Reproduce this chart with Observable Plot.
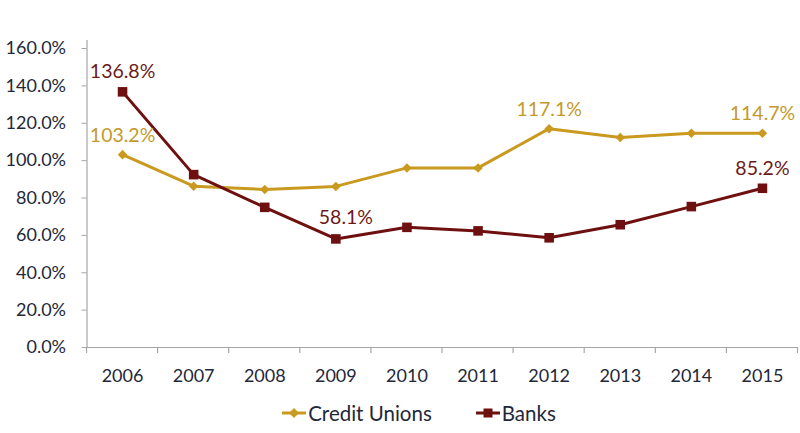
<!DOCTYPE html>
<html>
<head>
<meta charset="utf-8">
<script src="https://cdn.jsdelivr.net/npm/d3@7"></script>
<script src="https://cdn.jsdelivr.net/npm/@observablehq/plot@0.6"></script>
<style>
  html, body { margin: 0; padding: 0; background: #fff; }
  body { width: 800px; height: 433px; overflow: hidden; font-family: Lato, "Noto Sans", sans-serif; }
  #legend { display: flex; justify-content: center; align-items: center; gap: 44px; font-size: 20.5px; color: #1f2838; margin-top: 14px; padding-left: 38px; }
  #legend .item { display: flex; align-items: center; gap: 2px; }
</style>
</head>
<body>
<div id="chart"></div>
<div id="legend"></div>
<script>
const years = [2006, 2007, 2008, 2009, 2010, 2011, 2012, 2013, 2014, 2015];
const creditUnions = [103.2, 86.3, 84.6, 86.2, 96.1, 96.1, 117.1, 112.4, 114.7, 114.7];
const banks = [136.8, 92.5, 75.0, 58.1, 64.3, 62.4, 58.7, 65.7, 75.4, 85.2];
const yTicks = [0, 20, 40, 60, 80, 100, 120, 140, 160];
const cuLabelYears = [2006, 2012, 2015];
const bankLabelYears = [2006, 2009, 2015];

const seriesNames = ["Credit Unions", "Banks"];
const colors = {"Credit Unions": "#c99a1f", "Banks": "#6e1010"};
const labelColors = {"Credit Unions": "#c39a2a", "Banks": "#6b1a1a"};

const cu = years.map((y, i) => ({year: y, value: creditUnions[i], series: "Credit Unions"}));
const bk = years.map((y, i) => ({year: y, value: banks[i], series: "Banks"}));
const boundaries = [years[0] - 0.5, ...years.map(y => y + 0.5)];
const fmt = v => v.toFixed(1) + "%";

const cuLabels = cu.filter(d => cuLabelYears.includes(d.year));
const bkLabels = bk.filter(d => bankLabelYears.includes(d.year) && d.year !== 2009);
const bkLabelMid = bk.filter(d => d.year === 2009);

const font = "Lato, 'Noto Sans', sans-serif";
const chart = Plot.plot({
  width: 800,
  height: 387,
  marginLeft: 86.5,
  marginRight: 2.5,
  marginTop: 40,
  marginBottom: 40,
  style: {fontFamily: font, fontSize: "18px", color: "#1f2838", background: "#fff"},
  x: {domain: [years[0] - 0.5, years[years.length - 1] + 0.5]},
  y: {domain: [0, 160], range: [347, 48]},
  marks: [
    Plot.axisY({ticks: yTicks, tickFormat: fmt, tickSize: 5, tickPadding: 16, label: null, stroke: "#a6a6a6", fontSize: 18, fill: "#1f2838"}),
    Plot.ruleX([years[0] - 0.5], {stroke: "#a6a6a6", strokeWidth: 1.2}),
    Plot.axisX({ticks: years, tickFormat: d => String(d), tickSize: 0, tickPadding: 22, label: null, fontSize: 18, fill: "#1f2838"}),
    Plot.ruleY([0], {stroke: "#a6a6a6", strokeWidth: 1.2}),
    Plot.line(cu, {x: "year", y: "value", stroke: colors["Credit Unions"], strokeWidth: 3}),
    Plot.line(bk, {x: "year", y: "value", stroke: colors["Banks"], strokeWidth: 3}),
    Plot.dot(cu, {x: "year", y: "value", symbol: "diamond2", r: 4.3, fill: colors["Credit Unions"], stroke: "none"}),
    Plot.dot(bk, {x: "year", y: "value", symbol: "square", r: 5.4, fill: colors["Banks"], stroke: "none"}),
    Plot.text(cuLabels, {x: "year", y: "value", text: d => fmt(d.value), dy: -19, fill: labelColors["Credit Unions"], fontSize: 19.5}),
    Plot.text(bkLabels, {x: "year", y: "value", text: d => fmt(d.value), dy: -20, fill: labelColors["Banks"], fontSize: 19.5}),
    Plot.text(bkLabelMid, {x: "year", y: "value", text: d => fmt(d.value), dy: -21, dx: 10, fill: labelColors["Banks"], fontSize: 19.5})
  ]
});
document.getElementById("chart").appendChild(chart);

// boundary tick marks below the x axis line, placed through the plot's x scale
const xs = chart.scale("x"), ys = chart.scale("y");
const svg = d3.select(chart);
svg.append("g").selectAll("line").data(boundaries).join("line")
  .attr("x1", d => xs.apply(d)).attr("x2", d => xs.apply(d))
  .attr("y1", ys.apply(0)).attr("y2", ys.apply(0) + 6)
  .attr("stroke", "#a6a6a6").attr("stroke-width", 1.2);

const legend = document.getElementById("legend");
seriesNames.forEach(name => {
  const item = document.createElement("div");
  item.className = "item";
  const isCU = name === "Credit Unions";
  const marker = isCU
    ? `<path d="M12,6 L17,11 L12,16 L7,11 Z" fill="${colors[name]}"/>`
    : `<rect x="7.5" y="6.5" width="9" height="9" fill="${colors[name]}"/>`;
  item.innerHTML = `<svg width="24" height="22"><line x1="0" x2="24" y1="11" y2="11" stroke="${colors[name]}" stroke-width="3"/>${marker}</svg><span>${name}</span>`;
  legend.appendChild(item);
});
</script>
</body>
</html>
